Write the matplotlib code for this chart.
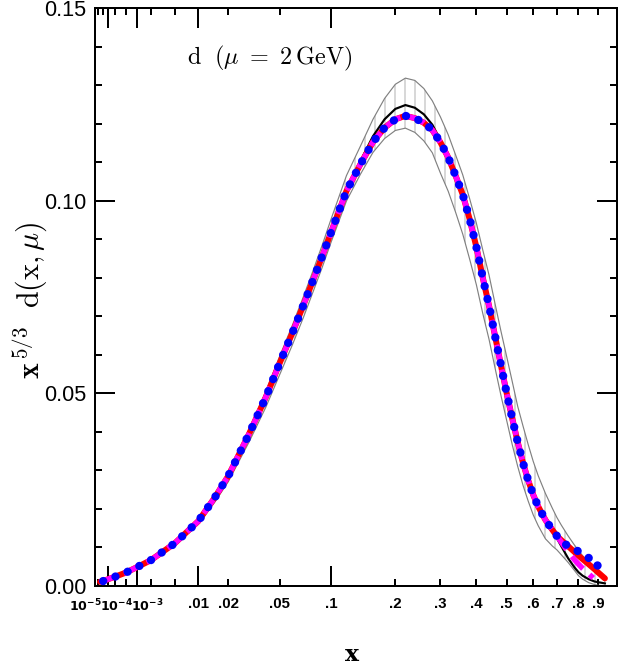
import numpy as np
import matplotlib
matplotlib.use('Agg')
import matplotlib.pyplot as plt

plt.rcParams['mathtext.fontset'] = 'cm'
plt.rcParams['hatch.linewidth'] = 0.6

# --- data: x and x^(5/3) d(x, mu) ---
x_common = [3e-5, 5e-5, 1e-4, 2e-4, 5e-4, 1e-3, 2e-3, 5e-3, .01, .015, .02, .03, .04, .05,
            .06, .07, .08, .09, .1, .12, .14, .16, .18, .2, .22, .24, .26, .28, .3, .32,
            .34, .36, .38, .4, .42, .44, .46, .48, .5, .52, .54, .56, .58, .6, .62, .65,
            .68, .7]
d_common = [.0010, .0012, .0017, .0023, .0034, .0048, .0066, .0110, .0168, .0230, .0285,
            .0395, .0490, .0580, .0656, .0728, .0795, .0858, .0918, .1026, .1095, .1153,
            .1190, .1212, .1221, .1215, .1203, .1184, .1152, .1113, .1065, .1016, .0952,
            .0880, .0800, .0727, .0648, .0572, .0500, .0434, .0373, .0319, .0274, .0236,
            .0206, .0171, .0145, .0129]

# red curve tail
x_red_tail = [.72, .75, .78, .8, .82, .85, .88, .9, .935]
d_red_tail = [.0118, .0103, .0088, .0078, .0069, .0056, .0043, .0034, .0019]

# magenta dashed tail
x_mag_tail = [.72, .75, .78, .8, .82, .85, .873]
d_mag_tail = [.0113, .0089, .0068, .0056, .0045, .0031, .0020]

# blue dotted tail
x_blue_tail = [.72, .74, .76, .8, .84, .87, .895]
d_blue_tail = [.0118, .0107, .0101, .0089, .0076, .0065, .0054]

# black curve
x_black = x_common + [.72, .75, .78, .8, .82, .85, .88, .9, .935]
d_black = [.0010, .0012, .0017, .0023, .0034, .0048, .0066, .0110, .0168, .0230, .0285,
           .0395, .0490, .0580, .0656, .0728, .0795, .0858, .0919, .1029, .1103, .1168,
           .1212, .1239, .1249, .1242, .1225, .1198, .1158, .1113, .1062, .1011, .0947,
           .0875, .0795, .0722, .0643, .0567, .0495, .0429, .0368, .0314, .0269, .0231,
           .0202, .0166, .0139, .0123,
           .0102, .0072, .0048, .0035, .0026, .0017, .0011, .0009, .0006]

# uncertainty band
x_band = x_common + [.72, .75, .78, .8, .82, .85, .88, .9, .935]
band_hi = [.0010, .0012, .0017, .0023, .0035, .0049, .0067, .0112, .0172, .0236, .0293,
           .0407, .0505, .0598, .0676, .0750, .0820, .0887, .0952, .1066, .1142, .1212,
           .1266, .1303, .1319, .1313, .1292, .1260, .1218, .1172, .1119, .1067, .1005,
           .0942, .0872, .0807, .0732, .0661, .0595, .0530, .0466, .0415, .0367, .0323,
           .0286, .0240, .0201, .0177,
           .0157, .0130, .0106, .0092, .0078, .0059, .0041, .0029, .0012]
band_lo = [.0010, .0012, .0016, .0022, .0033, .0046, .0063, .0105, .0160, .0218, .0270,
           .0374, .0464, .0550, .0625, .0696, .0765, .0829, .0892, .1000, .1069, .1126,
           .1162, .1183, .1189, .1178, .1156, .1125, .1072, .1025, .0970, .0913, .0848,
           .0782, .0707, .0640, .0565, .0494, .0429, .0366, .0310, .0261, .0220, .0184,
           .0156, .0122, .0103, .0093,
           .0080, .0061, .0040, .0026, .0017, .0008, .0003, .0001, .0000]

x_red = x_common + x_red_tail
d_red = d_common + d_red_tail
x_mag = x_common + x_mag_tail
d_mag = d_common + d_mag_tail
x_blue = x_common[1:] + x_blue_tail
d_blue = d_common[1:] + d_blue_tail

major_ticks = [1e-4, 1e-3, .01, .1]
major_labels = ['', '', '.01', '.1']
minor_ticks = [2e-5, 5e-5, 2e-4, 5e-4, 2e-3, 5e-3, .02, .05, .2, .3, .4, .5, .6, .7, .8, .9]
minor_labels = ['', '', '', '', '', '', '.02', '.05', '.2', '.3', '.4', '.5', '.6', '.7', '.8', '.9']

fig = plt.figure(figsize=(620 / 120, 667 / 120), dpi=120)
ax = fig.add_axes([0.1532, 0.1219, 0.8415, 0.8654])
ax.set_xscale('function', functions=(np.cbrt, lambda u: u ** 3))

ax.fill_between(x_band, band_lo, band_hi, facecolor='none', edgecolor='0.7',
                linewidth=0, hatch='||', zorder=1)
ax.plot(x_band, band_hi, color='0.5', lw=0.7, zorder=2)
ax.plot(x_band, band_lo, color='0.5', lw=0.7, zorder=2)
ax.plot(x_black, d_black, color='black', lw=1.3, zorder=3)
ax.plot(x_red, d_red, color='red', lw=3.6, solid_capstyle='round', zorder=4)
ax.plot(x_mag, d_mag, color='magenta', lw=3.3, linestyle=(0, (3.0, 1.6)),
        dash_capstyle='butt', zorder=5)
ax.plot(x_blue, d_blue, color='blue', lw=5.0, linestyle=(0, (0.01, 1.56)),
        dash_capstyle='round', zorder=6)
# dot at the end of the dotted line
ax.plot(x_blue[-1:], d_blue[-1:], 'o', color='blue', ms=5.0, mew=0, zorder=6)

ax.set_xlim(1e-5, 1)
ax.set_ylim(0, 0.15)

ax.set_xticks(major_ticks, labels=major_labels)
ax.set_xticks(minor_ticks, labels=minor_labels, minor=True)
ax.set_yticks([0, 0.05, 0.10, 0.15], labels=['0.00', '0.05', '0.10', '0.15'])
ax.set_yticks(np.arange(0.01, 0.15, 0.01), minor=True)

ax.tick_params(which='both', direction='in', top=True, right=True, width=1.2)
ax.tick_params(which='major', length=12)
ax.tick_params(which='minor', length=4.2)
ax.tick_params(axis='x', which='both', pad=7)
ax.tick_params(axis='y', pad=5)
for lab in ax.get_xticklabels(which='both'):
    lab.set_fontsize(9)
    lab.set_fontweight('bold')
    lab.set_family('Liberation Sans')
for lab in ax.get_yticklabels():
    lab.set_fontsize(13)
    lab.set_family('Liberation Sans')
for sp in ax.spines.values():
    sp.set_linewidth(1.2)

for xpos, txt in [(-0.019, r'$\mathbf{10^{-5}}$'), (0.0405, r'$\mathbf{10^{-4}}$'),
                  (0.1005, r'$\mathbf{10^{-3}}$')]:
    ax.text(xpos, -0.0445, txt, transform=ax.transAxes, ha='center', va='baseline',
            fontsize=7.6, math_fontfamily='dejavusans')

ax.text(0.335, 0.914, r'$\mathrm{d}\ \ (\mu\ =\ 2\,\mathrm{GeV})$', transform=ax.transAxes,
        ha='center', va='center', fontsize=14.5)

fig.text(30 / 620, 1 - 300 / 667, r'$\mathbf{x}^{\,5/3}\ \ \mathrm{d(x,}\mu\mathrm{)}$',
         rotation=90, ha='center', va='center', fontsize=18)
fig.text(352 / 620, 1 - 655 / 667, 'x', ha='center', va='center', fontsize=14,
         fontweight='bold', family='DejaVu Serif')

fig.savefig('out.png', dpi=120)
